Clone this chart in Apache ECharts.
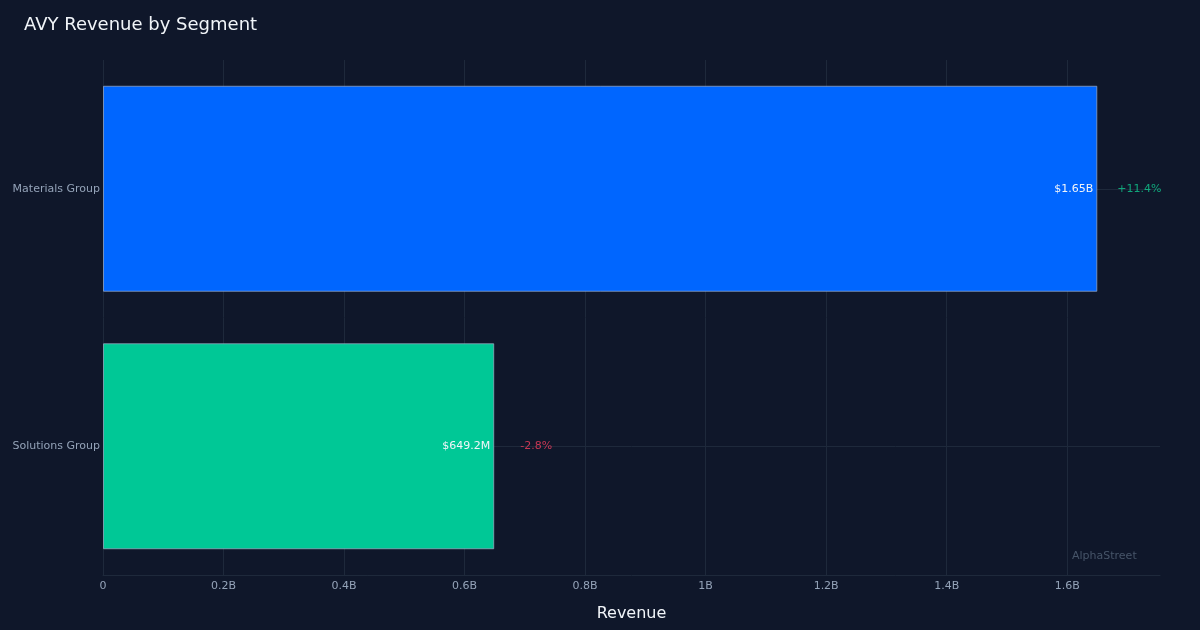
<!DOCTYPE html>
<html>
<head>
<meta charset="utf-8">
<script src="https://cdn.jsdelivr.net/npm/echarts@6/dist/echarts.min.js"></script>
<style>
html,body{margin:0;padding:0;background:#0f172a;}
#c{width:1200px;height:630px;}
</style>
</head>
<body>
<div id="c"></div>
<script>
const categories = ['Materials Group', 'Solutions Group'];
const revenue = [1.65e9, 0.6492e9];
const valueLabels = ['$1.65B', '$649.2M'];
const changeLabels = ['+11.4%', '-2.8%'];
const barColors = ['#0066ff', '#00c896'];
const changeColors = ['#10c98f', '#f43f5e'];
const xTicks = { min: 0, max: 1.754e9, interval: 0.2e9 };

const font = 'DejaVu Sans, sans-serif';
const chart = echarts.init(document.getElementById('c'));

function fmt(v) {
  if (v === 0) return '0';
  const b = v / 1e9;
  return (Math.round(b * 10) / 10) + 'B';
}

chart.setOption({
  backgroundColor: '#0f172a',
  animation: false,
  title: {
    text: 'AVY Revenue by Segment',
    left: 19, top: 11,
    textStyle: { color: '#f1f5f9', fontSize: 18, fontWeight: 'normal', fontFamily: font }
  },
  grid: { left: 103, right: 40, top: 60, bottom: 55, containLabel: false },
  xAxis: {
    type: 'value',
    min: xTicks.min, max: xTicks.max, interval: xTicks.interval,
    name: 'Revenue', nameLocation: 'middle', nameGap: 31,
    nameTextStyle: { color: '#f1f5f9', fontSize: 16, fontFamily: font },
    axisLine: { show: true, lineStyle: { color: '#1e293b' } },
    axisTick: { show: false },
    axisLabel: { color: '#94a3b8', fontSize: 11, fontFamily: font, margin: 6, showMaxLabel: false, formatter: fmt },
    splitLine: { show: true, showMaxLine: false, lineStyle: { color: '#1e293b', width: 1 } }
  },
  yAxis: {
    type: 'category',
    data: categories,
    inverse: true,
    axisLine: { show: false },
    axisTick: { show: false },
    axisLabel: { color: '#94a3b8', fontSize: 11, fontFamily: font, margin: 3 },
    splitLine: { show: false }
  },
  graphic: [{
    type: 'text', left: 1072, top: 551, z: 100,
    style: { text: 'AlphaStreet', fill: '#475569', fontSize: 11, fontFamily: font }
  }],
  series: [
    {
      type: 'line', data: [], z: 1, silent: true,
      markLine: {
        z: 1, zlevel: 0,
        silent: true, symbol: 'none', animation: false,
        label: { show: false },
        lineStyle: { color: '#1e293b', type: 'solid', width: 1 },
        data: categories.map(c => ({ yAxis: c }))
      }
    },
    {
      type: 'bar', z: 2,
      barCategoryGap: '20%',
      data: revenue.map((v, i) => ({
        value: v,
        itemStyle: { color: barColors[i], borderColor: 'rgba(160,175,200,0.7)', borderWidth: 1 }
      })),
      label: {
        show: true, position: 'insideRight', distance: 4,
        color: '#f1f5f9', fontSize: 11, fontFamily: font,
        formatter: p => valueLabels[p.dataIndex]
      }
    },
    {
      type: 'scatter', z: 3, symbolSize: 1, silent: true,
      itemStyle: { color: 'rgba(0,0,0,0)' },
      data: revenue.map((v, i) => ({
        value: [v, categories[i]],
        label: { color: changeColors[i] }
      })),
      label: {
        show: true, position: 'inside', offset: [42, 0],
        fontSize: 11, fontFamily: font,
        formatter: p => changeLabels[p.dataIndex]
      }
    }
  ]
});
</script>
</body>
</html>
